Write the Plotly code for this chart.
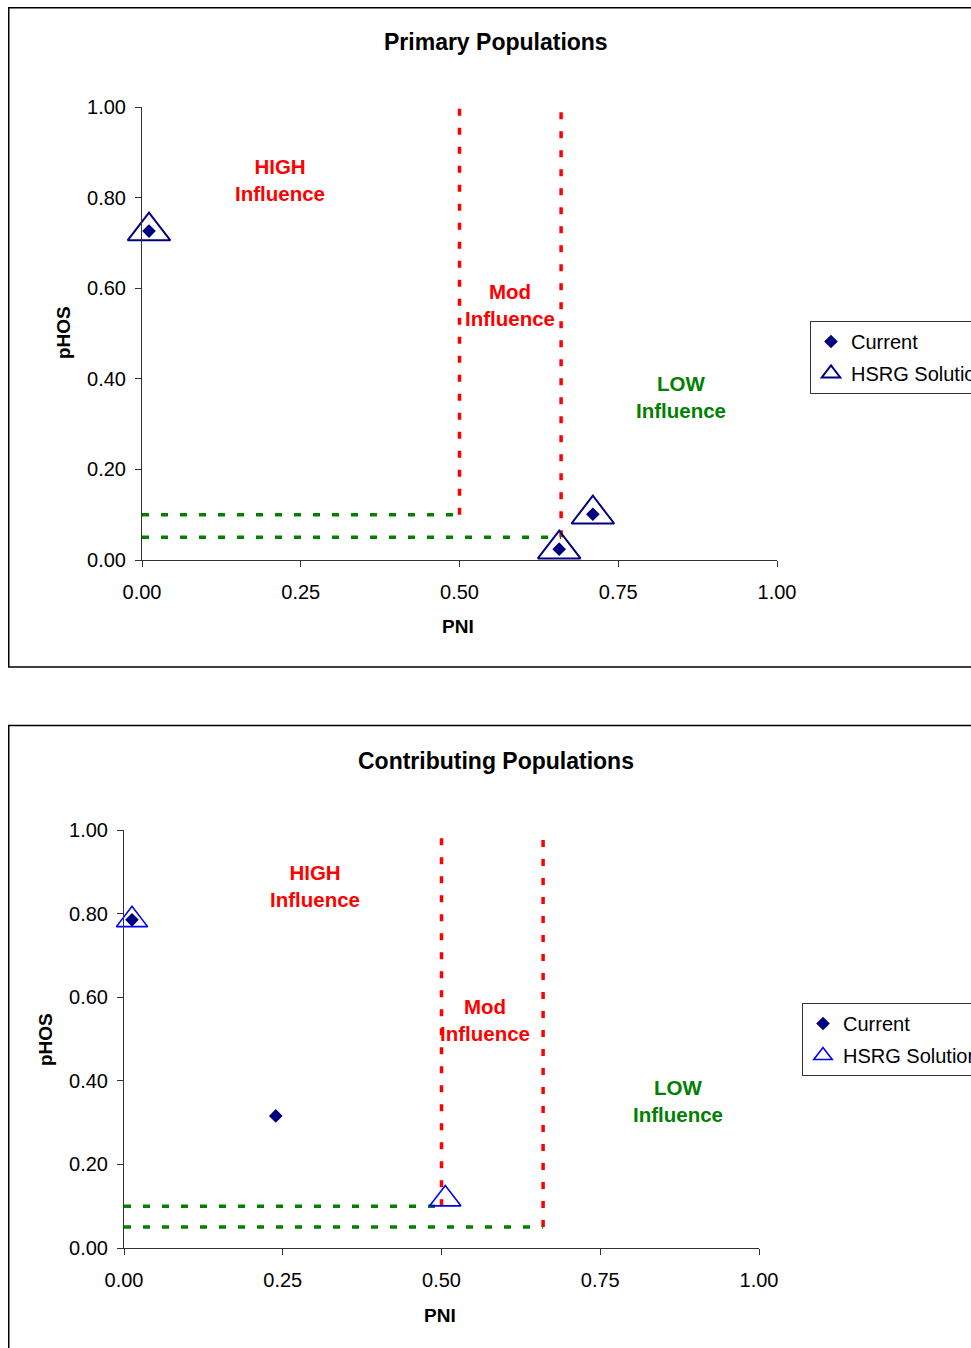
import plotly.graph_objects as go

OFF = 0
W, H = 971, 1348

# ---------------- data ----------------
# Primary populations
prim_cur_pni = [0.011, 0.657, 0.710]
prim_cur_phos = [0.726, 0.024, 0.101]
prim_hsrg_pni = [0.011, 0.657, 0.710]
prim_hsrg_phos = [0.726, 0.024, 0.101]

# Contributing populations
cont_cur_pni = [0.0126, 0.239]
cont_cur_phos = [0.785, 0.316]
cont_hsrg_pni = [0.0126, 0.506]
cont_hsrg_phos = [0.785, 0.117]

# threshold lines (PNI / pHOS)
red1_x = [0.50, 0.50]
red1_y = [0.10, 1.00]
red2_x = [0.66, 0.66]
red2_y = [0.05, 1.00]
green1_x = [0.00, 0.50]
green1_y = [0.10, 0.10]
green2_x = [0.00, 0.66]
green2_y = [0.05, 0.05]

tick_vals_x = [0, 0.25, 0.5, 0.75, 1.0]
tick_text_x = ["0.00", "0.25", "0.50", "0.75", "1.00"]
tick_vals_y = [0, 0.2, 0.4, 0.6, 0.8, 1.0]
tick_text_y = ["0.00", "0.20", "0.40", "0.60", "0.80", "1.00"]

FONT = "Liberation Sans, Arial, sans-serif"
NAVY = "#000080"
BLUE = "#0000FF"
RED = "#FF0000"
GREEN = "#008000"


def px_x(p):
    return (p - OFF) / W


def px_y(p):
    return 1 - (p - OFF) / H


fig = go.Figure()


def add_panel(xa, ya, legend, cur_x, cur_y, hs_x, hs_y, tri_color, tri_size, tri_w):
    for lx, ly, col in [
        (red1_x, red1_y, RED),
        (red2_x, red2_y, RED),
        (green1_x, green1_y, GREEN),
        (green2_x, green2_y, GREEN),
    ]:
        fig.add_trace(go.Scatter(
            x=lx, y=ly, mode="lines", xaxis=xa, yaxis=ya,
            line=dict(color=col, width=3.5, dash="7px,12px"),
            showlegend=False, hoverinfo="skip", cliponaxis=False))
    fig.add_trace(go.Scatter(
        x=cur_x, y=cur_y, mode="markers", name="Current", xaxis=xa, yaxis=ya,
        marker=dict(symbol="diamond", size=10.5, color=NAVY),
        legend=legend, legendgroup=legend + "cur", cliponaxis=False))
    fig.add_trace(go.Scatter(
        x=hs_x, y=hs_y, mode="markers", name="HSRG Solution", xaxis=xa, yaxis=ya,
        marker=dict(symbol="triangle-up-open", size=tri_size, color=tri_color,
                    line=dict(width=tri_w, color=tri_color)),
        legend=legend, legendgroup=legend + "hs", cliponaxis=False))


add_panel("x", "y", "legend", prim_cur_pni, prim_cur_phos,
          prim_hsrg_pni, prim_hsrg_phos, NAVY, 37, 2)
add_panel("x2", "y2", "legend2", cont_cur_pni, cont_cur_phos,
          cont_hsrg_pni, cont_hsrg_phos, BLUE, 27, 1.6)

axis_common = dict(
    range=[0, 1], showgrid=False, zeroline=False, showline=True,
    linecolor="#333333", linewidth=1, ticks="outside", ticklen=6,
    tickcolor="#333333", tickfont=dict(family=FONT, size=20, color="black"),
    fixedrange=True,
)

legend_common = dict(
    xanchor="left", yanchor="top", bgcolor="white", bordercolor="#333333",
    borderwidth=1, font=dict(family=FONT, size=20, color="black"),
    tracegroupgap=3, itemwidth=30,
)

fig.update_layout(
    width=W, height=H,
    margin=dict(l=0, r=0, t=0, b=0, autoexpand=False),
    paper_bgcolor="white", plot_bgcolor="white",
    font=dict(family=FONT, color="black"),
    xaxis=dict(domain=[px_x(142), px_x(777)], anchor="y",
               tickvals=tick_vals_x, ticktext=tick_text_x, ticklabelstandoff=8, **axis_common),
    yaxis=dict(domain=[px_y(560), px_y(107)], anchor="x",
               tickvals=tick_vals_y, ticktext=tick_text_y, ticklabelstandoff=5, **axis_common),
    xaxis2=dict(domain=[px_x(124), px_x(759)], anchor="y2",
                tickvals=tick_vals_x, ticktext=tick_text_x, ticklabelstandoff=8, **axis_common),
    yaxis2=dict(domain=[px_y(1248), px_y(830)], anchor="x2",
                tickvals=tick_vals_y, ticktext=tick_text_y, ticklabelstandoff=5, **axis_common),
    legend=dict(x=px_x(810), y=px_y(321), **legend_common),
    legend2=dict(x=px_x(802), y=px_y(1003), **legend_common),
    showlegend=True,
)

# chart borders
fig.add_shape(type="rect", xref="paper", yref="paper",
              x0=px_x(8.75), x1=1.2, y0=px_y(667), y1=px_y(7.75),
              line=dict(color="black", width=1.5), layer="below")
fig.add_shape(type="rect", xref="paper", yref="paper",
              x0=px_x(8.75), x1=1.2, y0=-0.2, y1=px_y(725.5),
              line=dict(color="black", width=1.5), layer="below")

anns = []
# titles
anns.append(dict(text="<b>Primary Populations</b>", x=px_x(496), y=px_y(42)))
anns.append(dict(text="<b>Contributing Populations</b>", x=px_x(496), y=px_y(761)))
# axis titles
anns.append(dict(text="<b>PNI</b>", x=px_x(458), y=px_y(627), size=19))
anns.append(dict(text="<b>pHOS</b>", x=px_x(63), y=px_y(333), size=19, angle=-90))
anns.append(dict(text="<b>PNI</b>", x=px_x(440), y=px_y(1315), size=19))
anns.append(dict(text="<b>pHOS</b>", x=px_x(45), y=px_y(1040), size=19, angle=-90))

for a in anns:
    fig.add_annotation(
        text=a["text"], x=a["x"], y=a["y"], xref="paper", yref="paper",
        xanchor="center", yanchor="middle", showarrow=False,
        textangle=a.get("angle", 0),
        font=dict(family=FONT, size=a.get("size", 23), color="black"))

# zone labels (data coords)
zones = [
    ("x", "y", "<b>HIGH<br>Influence</b>", 0.217, 0.839, RED),
    ("x", "y", "<b>Mod<br>Influence</b>", 0.5795, 0.563, RED),
    ("x", "y", "<b>LOW<br>Influence</b>", 0.849, 0.36, GREEN),
    ("x2", "y2", "<b>HIGH<br>Influence</b>", 0.3008, 0.866, RED),
    ("x2", "y2", "<b>Mod<br>Influence</b>", 0.5685, 0.545, RED),
    ("x2", "y2", "<b>LOW<br>Influence</b>", 0.8724, 0.352, GREEN),
]
for xr, yr, t, x, y, c in zones:
    fig.add_annotation(text=t, x=x, y=y, xref=xr, yref=yr, showarrow=False,
                       xanchor="center", yanchor="middle",
                       font=dict(family=FONT, size=20.5, color=c))

fig.write_html(
    "out.html",
    config={"displayModeBar": False},
    post_script="document.body.style.margin='0px';document.body.style.overflow='hidden';",
)
